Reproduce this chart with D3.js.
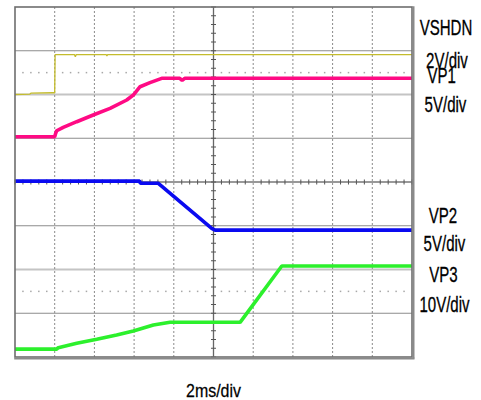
<!DOCTYPE html>
<html><head><meta charset="utf-8">
<script src="https://cdn.jsdelivr.net/npm/d3@7/dist/d3.min.js"></script>
<style>html,body{margin:0;padding:0;background:#fff;} svg{display:block}</style>
</head><body>
<svg id="c" width="481" height="400"></svg>
<script>
// ---- data (time in ms, values in volts) ----
const timeRangeMs = [0, 20];        // 2 ms/div, 10 divisions
const divRange = [0, 8];            // 8 vertical divisions
const timeBase = "2ms/div";
const channelNames = ["VSHDN", "VP1", "VP2", "VP3"];
const voltsPerDiv = [2, 5, 5, 10];
const groundDiv = [6, 5, 4, 0.18];

const vshdn = [[0,0],[0.75,0.02],[0.8,0.06],[1.9,0.08],[2.0,0.08],[2.02,1.82],[3.0,1.82],[3.04,1.72],[3.08,1.82],[4.6,1.82],[4.63,1.76],[4.66,1.82],[20,1.82]];
const vp1 = [[0,0.17],[2.0,0.17],[2.04,0.5],[2.1,0.86],[2.43,1.25],[3.11,1.89],[3.94,2.66],[4.79,3.42],[5.63,4.37],[5.96,4.94],[6.3,5.89],[6.8,6.35],[7.39,6.85],[8.3,6.85],[8.42,6.62],[8.55,6.85],[20,6.85]];
const vp2 = [[0,0.1],[6.28,0.1],[6.32,-0.15],[7.22,-0.15],[9.91,-5.3],[10.08,-5.5],[20,-5.5]];
const vp3 = [[0,0],[2.1,0],[2.18,0.33],[3.11,1.33],[4.12,2.25],[5.12,3.23],[5.96,4.14],[6.97,5.51],[7.81,6.13],[11.34,6.13],[13.44,19.0],[20,19.0]];
const traces = [vshdn, vp1, vp2, vp3];

// ---- styles ----
const colors = ["#c4bc2c", "#ff0a84", "#0a0af0", "#2cf02c"];
const widths = [1.3, 3.6, 3.6, 3.6];

// ---- layout ----
const L = 15, R = 412, T = 7, B = 357;
const svg = d3.select("#c");
const x = d3.scaleLinear().domain(timeRangeMs).range([L, R]);
const y = d3.scaleLinear().domain(divRange).range([B, T]);
const xDivMs = 2;
const xDivs = d3.range(timeRangeMs[0], timeRangeMs[1] + 0.001, xDivMs);
const yDivs = d3.range(divRange[0], divRange[1] + 0.001, 1);
const g = svg.append("g");

// horizontal gridlines
yDivs.slice(1, -1).forEach(d => {
  const light = (d === 2 || d === 6);
  g.append("line").attr("x1", L).attr("x2", R).attr("y1", y(d)).attr("y2", y(d))
    .attr("stroke", light ? "#c4c4c4" : (d === 4 ? "#777" : "#8c8c8c"))
    .attr("stroke-width", light ? 2 : (d === 4 ? 1.6 : 1.1));
});
// vertical gridlines
xDivs.slice(1, -1).forEach(d => {
  const center = d === 10;
  g.append("line").attr("x1", x(d)).attr("x2", x(d)).attr("y1", T).attr("y2", B)
    .attr("stroke", center ? "#666" : "#8a8a8a")
    .attr("stroke-width", center ? 1.3 : 1)
    .attr("stroke-dasharray", center ? null : "2,2");
});
// dotted reference rows
[1.5, 6.5].forEach(d => {
  d3.range(0, 10.001, 0.2).forEach(k => {
    const r = Math.round(k * 5) % 5;
    if (r === 0) return;
    g.append("rect").attr("x", x(k * xDivMs) - 0.75).attr("y", y(d) - 0.75)
      .attr("width", 1.5).attr("height", 1.5).attr("fill", "#a8a8a8");
  });
});
// center axis minor ticks
d3.range(0, 10.001, 0.2).forEach(k => {
  if (Math.round(k * 5) % 5 === 0 && Math.round(k) !== 0 && Math.round(k) !== 10) return;
  g.append("line").attr("x1", x(k * xDivMs)).attr("x2", x(k * xDivMs))
    .attr("y1", y(4) - 2.5).attr("y2", y(4) + 2.5).attr("stroke", "#555").attr("stroke-width", 1);
});
d3.range(0, 8.001, 0.2).forEach(k => {
  g.append("line").attr("x1", x(10) - 2.5).attr("x2", x(10) + 2.5)
    .attr("y1", y(k)).attr("y2", y(k)).attr("stroke", "#555").attr("stroke-width", 1);
});

// traces
svg.append("clipPath").attr("id", "pc").append("rect")
  .attr("x", L).attr("y", T).attr("width", R - L).attr("height", B - T);
traces.forEach((tr, i) => {
  const line = d3.line()
    .x(d => x(d[0]))
    .y(d => y(groundDiv[i] + d[1] / voltsPerDiv[i]));
  svg.append("path").datum(tr).attr("d", line).attr("fill", "none")
    .attr("stroke", colors[i]).attr("stroke-width", widths[i])
    .attr("stroke-linejoin", "bevel").attr("clip-path", "url(#pc)");
});

// border
svg.append("rect").attr("x", L).attr("y", T).attr("width", R - L).attr("height", B - T)
  .attr("fill", "none").attr("stroke", "#6e6e6e").attr("stroke-width", 1.6);
svg.append("line").attr("x1", R + 1.5).attr("x2", R + 1.5).attr("y1", T - 0.8).attr("y2", B + 1.5)
  .attr("stroke", "#8a8a8a").attr("stroke-width", 2);
svg.append("line").attr("x1", L - 0.8).attr("x2", R + 2.5).attr("y1", B + 1.5).attr("y2", B + 1.5)
  .attr("stroke", "#8a8a8a").attr("stroke-width", 2);

// labels: one text block (stacked lines, as on the scope screenshot)
const font = "'Liberation Sans', Arial, sans-serif";
const labelLines = [];
channelNames.forEach((n, i) => { labelLines.push(n); labelLines.push(voltsPerDiv[i] + "V/div"); });
const labelBase = [35, 68.3, 83.5, 111.7, 223, 251, 281.7, 311.7];
const labelCx = [446, 447, 441.7, 445.5, 443, 444.5, 443.5, 444.5];
const sx = 0.7;
const block = svg.append("text").attr("transform", `scale(${sx},1)`)
  .attr("text-anchor", "middle").attr("font-family", font).attr("font-size", 21.5)
  .attr("fill", "#000").attr("stroke", "#000").attr("stroke-width", 0.3);
labelLines.forEach((t, i) => {
  block.append("tspan").attr("x", labelCx[i] / sx).attr("y", labelBase[i]).text(t);
});
svg.append("text").attr("transform", `translate(${x(10)},396.7) scale(0.84,1)`)
  .attr("text-anchor", "middle").attr("font-family", font).attr("font-size", 19)
  .attr("fill", "#000").attr("stroke", "#000").attr("stroke-width", 0.25).text(timeBase);
</script>
</body></html>
